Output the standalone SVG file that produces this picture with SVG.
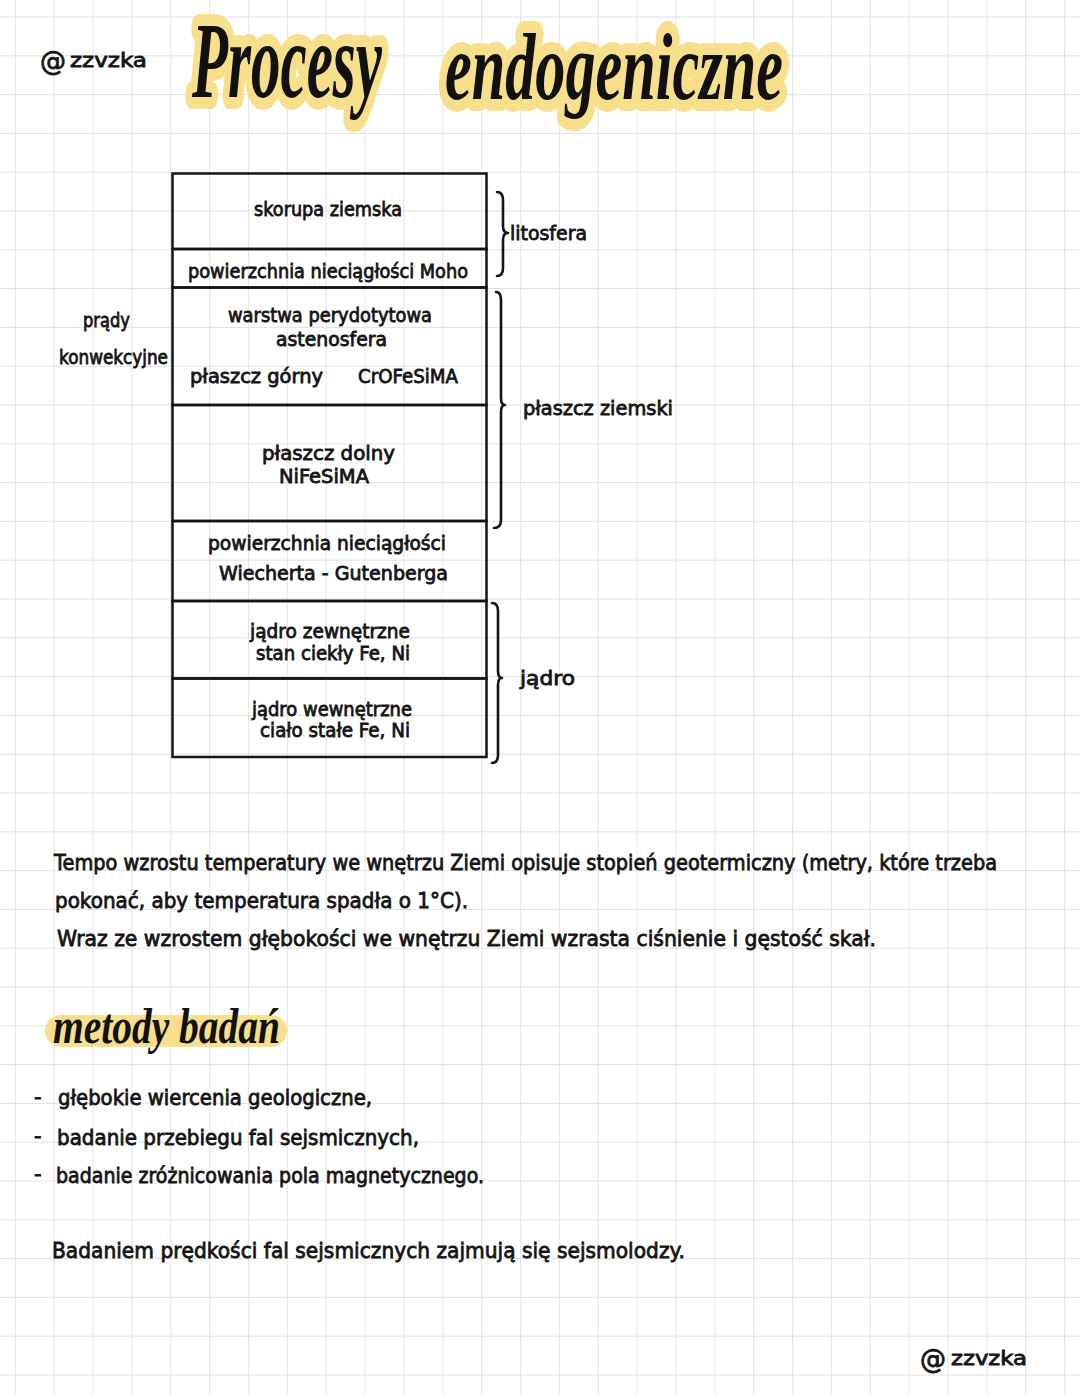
<svg xmlns="http://www.w3.org/2000/svg" width="1080" height="1395" viewBox="0 0 1080 1395">
<defs>
<pattern id="grid" patternUnits="userSpaceOnUse" x="14.8" y="16.5" width="38.86" height="38.8">
<path d="M0 0 H38.86 M0 0 V38.8" fill="none" stroke="#e2e2e2" stroke-width="1.8"/>
</pattern>
</defs>
<style>
.hw{font-family:"DejaVu Sans","Noto Sans",sans-serif;fill:#141414;stroke:#141414;stroke-width:0.8;}
.t19{font-size:19px;}
.t21{font-size:21px;}
.brush{font-family:"Liberation Serif","DejaVu Serif",serif;font-style:italic;font-weight:bold;fill:#111;}
.hl{stroke:#f8df8b;stroke-width:24;stroke-linejoin:round;stroke-linecap:round;paint-order:stroke fill;}
.cell{fill:none;stroke:#151515;stroke-width:2.5;}
.brace{fill:none;stroke:#151515;stroke-width:2.6;stroke-linecap:round;stroke-linejoin:round;}
</style>
<rect width="1080" height="1395" fill="#ffffff"/>
<rect width="1080" height="1395" fill="url(#grid)"/>

<g id="handle-top">
<text class="hw" x="40" y="70" font-size="27" textLength="26" lengthAdjust="spacingAndGlyphs">@</text>
<text class="hw t19" x="70" y="67" textLength="77" lengthAdjust="spacingAndGlyphs">zzvzka</text>
</g>

<g id="title">
<text class="brush hl" transform="translate(192 97) scale(0.5 1)" x="0" y="0" font-size="108" textLength="380" lengthAdjust="spacingAndGlyphs">Procesy</text>
<text class="brush hl" transform="translate(445 99) scale(0.5 1)" x="0" y="0" font-size="96" textLength="676" lengthAdjust="spacingAndGlyphs">endogeniczne</text>
</g>

<g id="layer-skorupa">
<rect class="cell" x="172.5" y="173.5" width="314" height="75.5"/>
<text class="hw t19" x="254" y="216" textLength="148" lengthAdjust="spacingAndGlyphs">skorupa ziemska</text>
</g>
<g id="layer-moho">
<rect class="cell" x="172.5" y="249" width="314" height="38.5"/>
<text class="hw t19" x="188" y="278" textLength="280" lengthAdjust="spacingAndGlyphs">powierzchnia nieciągłości Moho</text>
</g>
<g id="layer-plaszcz-gorny">
<rect class="cell" x="172.5" y="287.5" width="314" height="117.5"/>
<text class="hw t19" x="228" y="322" textLength="204" lengthAdjust="spacingAndGlyphs">warstwa perydotytowa</text>
<text class="hw t19" x="276" y="346" textLength="111" lengthAdjust="spacingAndGlyphs">astenosfera</text>
<text class="hw t19" x="190" y="383" textLength="133" lengthAdjust="spacingAndGlyphs">płaszcz górny</text>
<text class="hw t19" x="358" y="383" textLength="100" lengthAdjust="spacingAndGlyphs">CrOFeSiMA</text>
</g>
<g id="layer-plaszcz-dolny">
<rect class="cell" x="172.5" y="405" width="314" height="116"/>
<text class="hw t19" x="262" y="460" textLength="133" lengthAdjust="spacingAndGlyphs">płaszcz dolny</text>
<text class="hw t19" x="279" y="483" textLength="90" lengthAdjust="spacingAndGlyphs">NiFeSiMA</text>
</g>
<g id="layer-gutenberg">
<rect class="cell" x="172.5" y="521" width="314" height="80"/>
<text class="hw t19" x="208" y="550" textLength="238" lengthAdjust="spacingAndGlyphs">powierzchnia nieciągłości</text>
<text class="hw t19" x="219" y="580" textLength="229" lengthAdjust="spacingAndGlyphs">Wiecherta - Gutenberga</text>
</g>
<g id="layer-jadro-zewnetrzne">
<rect class="cell" x="172.5" y="601" width="314" height="77.5"/>
<text class="hw t19" x="250" y="638" textLength="160" lengthAdjust="spacingAndGlyphs">jądro zewnętrzne</text>
<text class="hw t19" x="256" y="660" textLength="154" lengthAdjust="spacingAndGlyphs">stan ciekły  Fe, Ni</text>
</g>
<g id="layer-jadro-wewnetrzne">
<rect class="cell" x="172.5" y="678.5" width="314" height="78.5"/>
<text class="hw t19" x="252" y="716" textLength="160" lengthAdjust="spacingAndGlyphs">jądro wewnętrzne</text>
<text class="hw t19" x="260" y="737" textLength="150" lengthAdjust="spacingAndGlyphs">ciało stałe Fe, Ni</text>
</g>

<g id="label-prady">
<text class="hw t19" x="83" y="327" textLength="47" lengthAdjust="spacingAndGlyphs">prądy</text>
<text class="hw t19" x="59" y="364" textLength="109" lengthAdjust="spacingAndGlyphs">konwekcyjne</text>
</g>

<g id="connectors">
<path class="brace" d="M497 192 Q503 192 503 200 L503 226 Q503 233 508 233 Q503 233 503 240 L503 268 Q503 276 497 276"/>
<path class="brace" d="M496 292 Q501 292 501 300 L501 398 Q501 405 505 405 Q501 405 501 412 L501 520 Q501 528 494 528"/>
<path class="brace" d="M492 603 Q498 603 498 611 L498 671 Q498 678 502 678 Q498 678 498 685 L498 755 Q498 763 492 763"/>
</g>

<g id="label-litosfera">
<text class="hw t19" x="510" y="240" textLength="77" lengthAdjust="spacingAndGlyphs">litosfera</text>
</g>
<g id="label-plaszcz">
<text class="hw t19" x="523" y="415" textLength="150" lengthAdjust="spacingAndGlyphs">płaszcz ziemski</text>
</g>
<g id="label-jadro">
<text class="hw t19" x="520" y="685" textLength="55" lengthAdjust="spacingAndGlyphs">jądro</text>
</g>

<g id="paragraph">
<text class="hw t21" x="54" y="870" textLength="943" lengthAdjust="spacingAndGlyphs">Tempo wzrostu temperatury we wnętrzu Ziemi opisuje stopień geotermiczny (metry, które trzeba</text>
<text class="hw t21" x="55" y="908" textLength="413" lengthAdjust="spacingAndGlyphs">pokonać, aby temperatura spadła o 1°C).</text>
<text class="hw t21" x="57" y="946" textLength="819" lengthAdjust="spacingAndGlyphs">Wraz ze wzrostem głębokości we wnętrzu Ziemi wzrasta ciśnienie i gęstość skał.</text>
</g>

<g id="methods-heading">
<rect x="45" y="1015" width="242" height="32" rx="16" fill="#f8df8b"/>
<text class="brush" x="53" y="1043" font-size="50" textLength="227" lengthAdjust="spacingAndGlyphs">metody badań</text>
</g>

<g id="methods-list">
<text class="hw t21" x="34" y="1104">-</text>
<text class="hw t21" x="58" y="1105" textLength="314" lengthAdjust="spacingAndGlyphs">głębokie  wiercenia geologiczne,</text>
<text class="hw t21" x="34" y="1143">-</text>
<text class="hw t21" x="57" y="1145" textLength="362" lengthAdjust="spacingAndGlyphs">badanie  przebiegu fal sejsmicznych,</text>
<text class="hw t21" x="34" y="1181">-</text>
<text class="hw t21" x="56" y="1183" textLength="428" lengthAdjust="spacingAndGlyphs">badanie  zróżnicowania pola magnetycznego.</text>
</g>

<g id="closing">
<text class="hw t21" x="52" y="1258" textLength="633" lengthAdjust="spacingAndGlyphs">Badaniem prędkości fal sejsmicznych zajmują się sejsmolodzy.</text>
</g>

<g id="handle-bottom">
<text class="hw" x="920" y="1368" font-size="27" textLength="26" lengthAdjust="spacingAndGlyphs">@</text>
<text class="hw t19" x="951" y="1365" textLength="76" lengthAdjust="spacingAndGlyphs">zzvzka</text>
</g>
</svg>
